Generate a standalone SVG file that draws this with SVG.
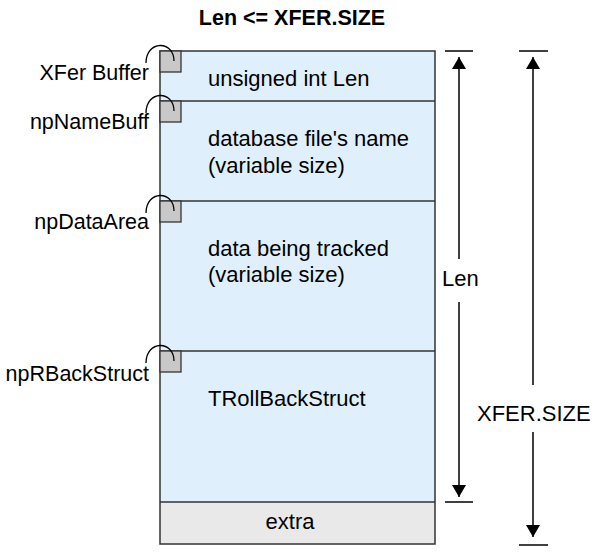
<svg xmlns="http://www.w3.org/2000/svg" width="594" height="554" viewBox="0 0 594 554">
<style>
text{font-family:"Liberation Sans",Arial,sans-serif;font-size:22px;fill:#000}
.title{font-weight:bold;font-size:21.5px}
.lbl{text-anchor:end;font-size:21.5px}
.sq{fill:#c8c8c8;stroke:#333;stroke-width:1.3}
.arc{fill:none;stroke:#000;stroke-width:1.3}
.ln{stroke:#000;stroke-width:1.5;fill:none}
.div{stroke:#333;stroke-width:1.3}
</style>
<defs>
<marker id="ah" viewBox="0 0 12 14" refX="12" refY="7" markerWidth="12" markerHeight="14" markerUnits="userSpaceOnUse" orient="auto">
<path d="M0,0 L12,7 L0,14 Z" fill="#000"/>
</marker>
</defs>
<text class="title" x="292" y="25" text-anchor="middle">Len &lt;= XFER.SIZE</text>
<g id="buffer">
<rect x="160" y="51" width="275" height="451" fill="#dff0fc" stroke="none"/>
<rect x="160" y="502" width="275" height="42" fill="#e9e9e9" stroke="none"/>
<rect x="160" y="51" width="275" height="493" fill="none" stroke="#333" stroke-width="1.5"/>
<line class="div" x1="160" y1="101" x2="435" y2="101"/>
<line class="div" x1="160" y1="201" x2="435" y2="201"/>
<line class="div" x1="160" y1="351" x2="435" y2="351"/>
<line class="div" x1="160" y1="502" x2="435" y2="502"/>
</g>
<g id="row-len"><text x="208" y="86">unsigned int Len</text></g>
<g id="row-name"><text x="208" y="146">database file's name</text><text x="208" y="173">(variable size)</text></g>
<g id="row-data"><text x="208" y="256">data being tracked</text><text x="208" y="282">(variable size)</text></g>
<g id="row-rollback"><text x="208" y="406">TRollBackStruct</text></g>
<g id="row-extra"><text x="290" y="529" text-anchor="middle">extra</text></g>
<g id="ptr-xfer"><rect class="sq" x="160" y="51" width="21" height="21"/><path class="arc" d="M146,63 C146,40 174,40 174,61"/><text class="lbl" x="149" y="80">XFer Buffer</text></g>
<g id="ptr-name"><rect class="sq" x="160" y="101" width="21" height="21"/><path class="arc" d="M146,113 C146,90 174,90 174,111"/><text class="lbl" x="149" y="129">npNameBuff</text></g>
<g id="ptr-data"><rect class="sq" x="160" y="201" width="21" height="21"/><path class="arc" d="M146,213 C146,190 174,190 174,211"/><text class="lbl" x="149" y="229">npDataArea</text></g>
<g id="ptr-rback"><rect class="sq" x="160" y="351" width="21" height="21"/><path class="arc" d="M146,363 C146,340 174,340 174,361"/><text class="lbl" x="149" y="381">npRBackStruct</text></g>
<g id="connectors">
<line class="ln" x1="445" y1="51" x2="473" y2="51"/>
<line class="ln" x1="445" y1="502" x2="473" y2="502"/>
<line class="ln" x1="459" y1="259" x2="459" y2="57" marker-end="url(#ah)"/>
<line class="ln" x1="459" y1="302" x2="459" y2="497" marker-end="url(#ah)"/>
<line class="ln" x1="519" y1="51" x2="548" y2="51"/>
<line class="ln" x1="519" y1="545" x2="548" y2="545"/>
<line class="ln" x1="533" y1="385" x2="533" y2="57" marker-end="url(#ah)"/>
<line class="ln" x1="533" y1="432" x2="533" y2="537" marker-end="url(#ah)"/>
</g>
<g id="dim-labels">
<text x="442" y="286">Len</text>
<text x="477" y="421">XFER.SIZE</text>
</g>
</svg>
